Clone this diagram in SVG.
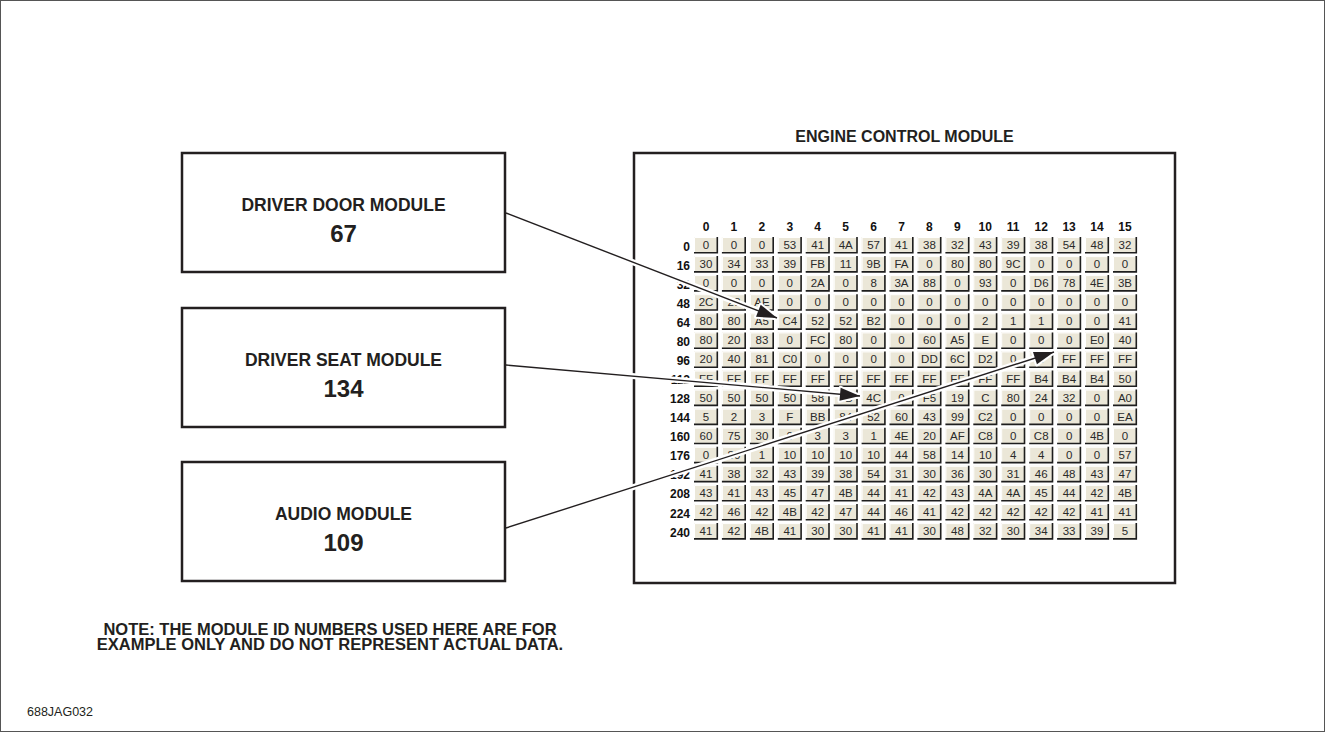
<svg xmlns="http://www.w3.org/2000/svg" xmlns:xlink="http://www.w3.org/1999/xlink" width="1325" height="732" viewBox="0 0 1325 732">
<style>
.box{fill:#fff;stroke:#231f20;stroke-width:2.5}
.t{font-family:"Liberation Sans",Arial,sans-serif;font-weight:bold;fill:#231f20;text-anchor:middle}
.ttl{font-size:17.5px}
.num{font-size:24px}
.note{font-size:16.5px}
.hd{font-family:"Liberation Sans Narrow","Liberation Sans",Arial,sans-serif;font-weight:bold;font-size:12px;fill:#111;text-anchor:middle}
.rl{font-family:"Liberation Sans Narrow","Liberation Sans",Arial,sans-serif;font-weight:bold;font-size:12px;fill:#111;text-anchor:end}
.v text{font-family:"Liberation Sans",Arial,sans-serif;font-size:11.5px;fill:#2a2a2a;text-anchor:middle}
.halo{stroke:#fff;stroke-width:6;fill:none}
.ln{stroke:#231f20;stroke-width:1.4;fill:none}
</style>
<defs>
<g id="c">
<rect x="0" y="0" width="24" height="15.5" fill="#ebe7d8"/>
<path d="M0.5,15 V0.5 H23" stroke="#fff" stroke-width="1" fill="none"/>
<path d="M23.3,0 V15.8 H0" stroke="#1e1e1e" stroke-width="1.6" fill="none"/>
</g>
<g id="rc">
<use xlink:href="#c" x="694"/><use xlink:href="#c" x="721.9"/><use xlink:href="#c" x="749.9"/><use xlink:href="#c" x="777.8"/><use xlink:href="#c" x="805.7"/><use xlink:href="#c" x="833.7"/><use xlink:href="#c" x="861.6"/><use xlink:href="#c" x="889.5"/><use xlink:href="#c" x="917.4"/><use xlink:href="#c" x="945.4"/><use xlink:href="#c" x="973.3"/><use xlink:href="#c" x="1001.2"/><use xlink:href="#c" x="1029.2"/><use xlink:href="#c" x="1057.1"/><use xlink:href="#c" x="1085"/><use xlink:href="#c" x="1113"/>
</g>
<marker id="ah" markerUnits="userSpaceOnUse" markerWidth="24" markerHeight="16" refX="20" refY="6.5" orient="auto" overflow="visible"><path d="M0,0 L20,6.5 L0,13 Z" fill="#231f20"/></marker>
<marker id="ahw" markerUnits="userSpaceOnUse" markerWidth="24" markerHeight="16" refX="20" refY="6.5" orient="auto" overflow="visible"><path d="M0,0 L20,6.5 L0,13 Z" fill="#fff" stroke="#fff" stroke-width="4" stroke-linejoin="round"/></marker>
</defs>
<rect x="0.5" y="0.5" width="1324" height="731" fill="#fff" stroke="#555" stroke-width="1"/>

<g id="driver-door-module">
<rect class="box" x="182" y="153" width="323" height="119"/>
<text class="t ttl" x="343.5" y="211">DRIVER DOOR MODULE</text>
<text class="t num" x="343.5" y="242">67</text>
</g>
<g id="driver-seat-module">
<rect class="box" x="182" y="308" width="323" height="119"/>
<text class="t ttl" x="343.5" y="366">DRIVER SEAT MODULE</text>
<text class="t num" x="343.5" y="397">134</text>
</g>
<g id="audio-module">
<rect class="box" x="182" y="462" width="323" height="119"/>
<text class="t ttl" x="343.5" y="520">AUDIO MODULE</text>
<text class="t num" x="343.5" y="551">109</text>
</g>

<g id="engine-control-module">
<text class="t" style="font-size:16px" x="904.5" y="142">ENGINE CONTROL MODULE</text>
<rect class="box" x="634" y="153" width="541" height="430"/>
<g id="col-headers">
<text class="hd" y="231" x="706">0</text><text class="hd" y="231" x="733.9">1</text><text class="hd" y="231" x="761.9">2</text><text class="hd" y="231" x="789.8">3</text><text class="hd" y="231" x="817.7">4</text><text class="hd" y="231" x="845.7">5</text><text class="hd" y="231" x="873.6">6</text><text class="hd" y="231" x="901.5">7</text><text class="hd" y="231" x="929.4">8</text><text class="hd" y="231" x="957.4">9</text><text class="hd" y="231" x="985.3">10</text><text class="hd" y="231" x="1013.2">11</text><text class="hd" y="231" x="1041.2">12</text><text class="hd" y="231" x="1069.1">13</text><text class="hd" y="231" x="1097">14</text><text class="hd" y="231" x="1125">15</text>
</g>
<g id="row-labels">
<text class="rl" x="690" y="250.5">0</text><text class="rl" x="690" y="269.6">16</text><text class="rl" x="690" y="288.6">32</text><text class="rl" x="690" y="307.7">48</text><text class="rl" x="690" y="326.8">64</text><text class="rl" x="690" y="345.9">80</text><text class="rl" x="690" y="364.9">96</text><text class="rl" x="690" y="384">112</text><text class="rl" x="690" y="403.1">128</text><text class="rl" x="690" y="422.1">144</text><text class="rl" x="690" y="441.2">160</text><text class="rl" x="690" y="460.3">176</text><text class="rl" x="690" y="479.3">192</text><text class="rl" x="690" y="498.4">208</text><text class="rl" x="690" y="517.5">224</text><text class="rl" x="690" y="536.6">240</text>
</g>
<g id="cells">
<use xlink:href="#rc" y="237"/><use xlink:href="#rc" y="256.1"/><use xlink:href="#rc" y="275.1"/><use xlink:href="#rc" y="294.2"/><use xlink:href="#rc" y="313.3"/><use xlink:href="#rc" y="332.4"/><use xlink:href="#rc" y="351.4"/><use xlink:href="#rc" y="370.5"/><use xlink:href="#rc" y="389.6"/><use xlink:href="#rc" y="408.6"/><use xlink:href="#rc" y="427.7"/><use xlink:href="#rc" y="446.8"/><use xlink:href="#rc" y="465.8"/><use xlink:href="#rc" y="484.9"/><use xlink:href="#rc" y="504"/><use xlink:href="#rc" y="523.1"/>
</g>
<g class="v">
<g transform="translate(0,249)"><text x="706">0</text><text x="733.9">0</text><text x="761.9">0</text><text x="789.8">53</text><text x="817.7">41</text><text x="845.7">4A</text><text x="873.6">57</text><text x="901.5">41</text><text x="929.4">38</text><text x="957.4">32</text><text x="985.3">43</text><text x="1013.2">39</text><text x="1041.2">38</text><text x="1069.1">54</text><text x="1097">48</text><text x="1125">32</text></g>
<g transform="translate(0,268.1)"><text x="706">30</text><text x="733.9">34</text><text x="761.9">33</text><text x="789.8">39</text><text x="817.7">FB</text><text x="845.7">11</text><text x="873.6">9B</text><text x="901.5">FA</text><text x="929.4">0</text><text x="957.4">80</text><text x="985.3">80</text><text x="1013.2">9C</text><text x="1041.2">0</text><text x="1069.1">0</text><text x="1097">0</text><text x="1125">0</text></g>
<g transform="translate(0,287.1)"><text x="706">0</text><text x="733.9">0</text><text x="761.9">0</text><text x="789.8">0</text><text x="817.7">2A</text><text x="845.7">0</text><text x="873.6">8</text><text x="901.5">3A</text><text x="929.4">88</text><text x="957.4">0</text><text x="985.3">93</text><text x="1013.2">0</text><text x="1041.2">D6</text><text x="1069.1">78</text><text x="1097">4E</text><text x="1125">3B</text></g>
<g transform="translate(0,306.2)"><text x="706">2C</text><text x="733.9">23</text><text x="761.9">AE</text><text x="789.8">0</text><text x="817.7">0</text><text x="845.7">0</text><text x="873.6">0</text><text x="901.5">0</text><text x="929.4">0</text><text x="957.4">0</text><text x="985.3">0</text><text x="1013.2">0</text><text x="1041.2">0</text><text x="1069.1">0</text><text x="1097">0</text><text x="1125">0</text></g>
<g transform="translate(0,325.3)"><text x="706">80</text><text x="733.9">80</text><text x="761.9">A5</text><text x="789.8">C4</text><text x="817.7">52</text><text x="845.7">52</text><text x="873.6">B2</text><text x="901.5">0</text><text x="929.4">0</text><text x="957.4">0</text><text x="985.3">2</text><text x="1013.2">1</text><text x="1041.2">1</text><text x="1069.1">0</text><text x="1097">0</text><text x="1125">41</text></g>
<g transform="translate(0,344.4)"><text x="706">80</text><text x="733.9">20</text><text x="761.9">83</text><text x="789.8">0</text><text x="817.7">FC</text><text x="845.7">80</text><text x="873.6">0</text><text x="901.5">0</text><text x="929.4">60</text><text x="957.4">A5</text><text x="985.3">E</text><text x="1013.2">0</text><text x="1041.2">0</text><text x="1069.1">0</text><text x="1097">E0</text><text x="1125">40</text></g>
<g transform="translate(0,363.4)"><text x="706">20</text><text x="733.9">40</text><text x="761.9">81</text><text x="789.8">C0</text><text x="817.7">0</text><text x="845.7">0</text><text x="873.6">0</text><text x="901.5">0</text><text x="929.4">DD</text><text x="957.4">6C</text><text x="985.3">D2</text><text x="1013.2">0</text><text x="1041.2">0</text><text x="1069.1">FF</text><text x="1097">FF</text><text x="1125">FF</text></g>
<g transform="translate(0,382.5)"><text x="706">FF</text><text x="733.9">FF</text><text x="761.9">FF</text><text x="789.8">FF</text><text x="817.7">FF</text><text x="845.7">FF</text><text x="873.6">FF</text><text x="901.5">FF</text><text x="929.4">FF</text><text x="957.4">FF</text><text x="985.3">FF</text><text x="1013.2">FF</text><text x="1041.2">B4</text><text x="1069.1">B4</text><text x="1097">B4</text><text x="1125">50</text></g>
<g transform="translate(0,401.6)"><text x="706">50</text><text x="733.9">50</text><text x="761.9">50</text><text x="789.8">50</text><text x="817.7">58</text><text x="845.7">4B</text><text x="873.6">4C</text><text x="901.5">0</text><text x="929.4">F5</text><text x="957.4">19</text><text x="985.3">C</text><text x="1013.2">80</text><text x="1041.2">24</text><text x="1069.1">32</text><text x="1097">0</text><text x="1125">A0</text></g>
<g transform="translate(0,420.6)"><text x="706">5</text><text x="733.9">2</text><text x="761.9">3</text><text x="789.8">F</text><text x="817.7">BB</text><text x="845.7">84</text><text x="873.6">52</text><text x="901.5">60</text><text x="929.4">43</text><text x="957.4">99</text><text x="985.3">C2</text><text x="1013.2">0</text><text x="1041.2">0</text><text x="1069.1">0</text><text x="1097">0</text><text x="1125">EA</text></g>
<g transform="translate(0,439.7)"><text x="706">60</text><text x="733.9">75</text><text x="761.9">30</text><text x="789.8">0</text><text x="817.7">3</text><text x="845.7">3</text><text x="873.6">1</text><text x="901.5">4E</text><text x="929.4">20</text><text x="957.4">AF</text><text x="985.3">C8</text><text x="1013.2">0</text><text x="1041.2">C8</text><text x="1069.1">0</text><text x="1097">4B</text><text x="1125">0</text></g>
<g transform="translate(0,458.8)"><text x="706">0</text><text x="733.9">80</text><text x="761.9">1</text><text x="789.8">10</text><text x="817.7">10</text><text x="845.7">10</text><text x="873.6">10</text><text x="901.5">44</text><text x="929.4">58</text><text x="957.4">14</text><text x="985.3">10</text><text x="1013.2">4</text><text x="1041.2">4</text><text x="1069.1">0</text><text x="1097">0</text><text x="1125">57</text></g>
<g transform="translate(0,477.8)"><text x="706">41</text><text x="733.9">38</text><text x="761.9">32</text><text x="789.8">43</text><text x="817.7">39</text><text x="845.7">38</text><text x="873.6">54</text><text x="901.5">31</text><text x="929.4">30</text><text x="957.4">36</text><text x="985.3">30</text><text x="1013.2">31</text><text x="1041.2">46</text><text x="1069.1">48</text><text x="1097">43</text><text x="1125">47</text></g>
<g transform="translate(0,496.9)"><text x="706">43</text><text x="733.9">41</text><text x="761.9">43</text><text x="789.8">45</text><text x="817.7">47</text><text x="845.7">4B</text><text x="873.6">44</text><text x="901.5">41</text><text x="929.4">42</text><text x="957.4">43</text><text x="985.3">4A</text><text x="1013.2">4A</text><text x="1041.2">45</text><text x="1069.1">44</text><text x="1097">42</text><text x="1125">4B</text></g>
<g transform="translate(0,516)"><text x="706">42</text><text x="733.9">46</text><text x="761.9">42</text><text x="789.8">4B</text><text x="817.7">42</text><text x="845.7">47</text><text x="873.6">44</text><text x="901.5">46</text><text x="929.4">41</text><text x="957.4">42</text><text x="985.3">42</text><text x="1013.2">42</text><text x="1041.2">42</text><text x="1069.1">42</text><text x="1097">41</text><text x="1125">41</text></g>
<g transform="translate(0,535.1)"><text x="706">41</text><text x="733.9">42</text><text x="761.9">4B</text><text x="789.8">41</text><text x="817.7">30</text><text x="845.7">30</text><text x="873.6">41</text><text x="901.5">41</text><text x="929.4">30</text><text x="957.4">48</text><text x="985.3">32</text><text x="1013.2">30</text><text x="1041.2">34</text><text x="1069.1">33</text><text x="1097">39</text><text x="1125">5</text></g>
</g>
</g>

<g id="connectors">
<line class="halo" x1="509" y1="214.2" x2="777" y2="318" marker-end="url(#ahw)"/>
<line class="halo" x1="509" y1="365.3" x2="860" y2="396" marker-end="url(#ahw)"/>
<line class="halo" x1="509" y1="527" x2="1054" y2="352" marker-end="url(#ahw)"/>
<line class="ln" x1="506" y1="213" x2="777" y2="318" marker-end="url(#ah)"/>
<line class="ln" x1="506" y1="365" x2="860" y2="396" marker-end="url(#ah)"/>
<line class="ln" x1="506" y1="528" x2="1054" y2="352" marker-end="url(#ah)"/>
</g>

<g id="note">
<text class="t note" x="330" y="635">NOTE: THE MODULE ID NUMBERS USED HERE ARE FOR</text>
<text class="t note" x="330" y="650">EXAMPLE ONLY AND DO NOT REPRESENT ACTUAL DATA.</text>
</g>
<text x="27" y="716" style="font-family:'Liberation Sans',Arial,sans-serif;font-size:12.5px;fill:#231f20">688JAG032</text>
</svg>
